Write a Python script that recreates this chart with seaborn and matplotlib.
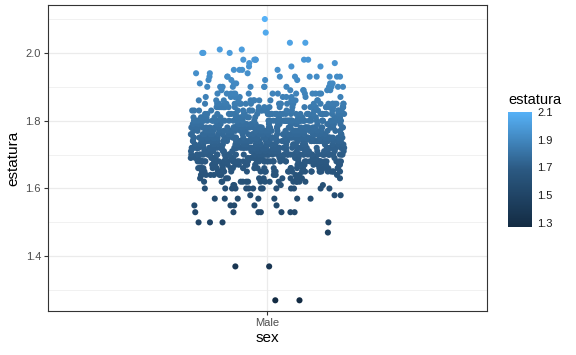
import numpy as np
import pandas as pd
import seaborn as sns
import matplotlib.pyplot as plt
from matplotlib.colors import LinearSegmentedColormap, Normalize
from matplotlib.cm import ScalarMappable

# height levels (m) and how many people were read at each level
levels = [1.27, 1.37, 1.47, 1.50, 1.53, 1.55, 1.57, 1.58, 1.60, 1.61, 1.62, 1.63,
          1.64, 1.65, 1.66, 1.67, 1.68, 1.69, 1.70, 1.71, 1.72, 1.73, 1.74, 1.75,
          1.76, 1.77, 1.78, 1.79, 1.80, 1.81, 1.82, 1.83, 1.84, 1.85, 1.86, 1.87,
          1.88, 1.89, 1.90, 1.91, 1.92, 1.93, 1.94, 1.95, 1.96, 1.97, 1.98, 2.00,
          2.01, 2.03, 2.06, 2.10]
counts = [2, 2, 1, 4, 7, 5, 7, 3, 14, 4, 16, 10,
          12, 30, 24, 22, 55, 22, 65, 28, 65, 32, 60, 60,
          45, 45, 55, 28, 65, 24, 40, 22, 24, 25, 14, 9,
          14, 6, 12, 5, 4, 10, 3, 4, 3, 2, 6, 3,
          2, 2, 1, 1]
category = "Male"
cbar_ticks = [1.3, 1.5, 1.7, 1.9, 2.1]

estatura = np.repeat(levels, counts)
df = pd.DataFrame({"sex": category, "estatura": estatura})

sns.set_theme(style="white")
plt.rcParams["font.family"] = ["Liberation Sans", "DejaVu Sans"]

cmap = LinearSegmentedColormap.from_list("gg", ["#132B43", "#2B5982", "#56B1F7"])
norm = Normalize(vmin=min(levels), vmax=max(levels))

fig = plt.figure(figsize=(5.76, 3.55), dpi=100)
ax = fig.add_axes([0.0833, 0.124, 0.7622, 0.862])

np.random.seed(3)
sns.stripplot(data=df, x="sex", y="estatura", hue="estatura", palette=cmap,
              hue_norm=norm, jitter=0.21, size=4.4, linewidth=0,
              legend=False, ax=ax, zorder=3)

ax.set_xlim(-0.6, 0.6)
ax.set_ylim(1.2385, 2.1415)
ax.set_yticks([1.4, 1.6, 1.8, 2.0])
ax.set_yticks([1.3, 1.5, 1.7, 1.9, 2.1], minor=True)
ax.grid(True, which="major", color="#EBEBEB", linewidth=0.9, zorder=0)
ax.grid(True, which="minor", axis="y", color="#EBEBEB", linewidth=0.5, zorder=0)
ax.set_axisbelow(True)
for s in ax.spines.values():
    s.set_color("#333333")
    s.set_linewidth(0.8)
ax.tick_params(axis="both", which="major", length=3, width=0.8, color="#333333",
               labelsize=8, labelcolor="#4D4D4D", pad=2, left=True, bottom=True)
ax.tick_params(axis="y", which="minor", length=0)
ax.set_xlabel("sex", fontsize=11, color="black", labelpad=2)
ax.set_ylabel("estatura", fontsize=11, color="black", labelpad=4)

cax = fig.add_axes([508 / 576, 1 - 227 / 355, 24 / 576, 115 / 355])
sm = ScalarMappable(norm=norm, cmap=cmap)
cb = fig.colorbar(sm, cax=cax, ticks=cbar_ticks)
cb.outline.set_visible(False)
cax.tick_params(axis="y", direction="in", length=4, width=0.8, color="white",
                labelsize=8, labelcolor="#1A1A1A", pad=4, left=True, right=True,
                labelleft=False, labelright=True)
cax.set_yticklabels([f"{t:.1f}" for t in cbar_ticks])
fig.text(508 / 576, 1 - 100 / 355, "estatura", fontsize=10.5, ha="left",
         va="center", color="black")

fig.savefig("out.png", dpi=100)
